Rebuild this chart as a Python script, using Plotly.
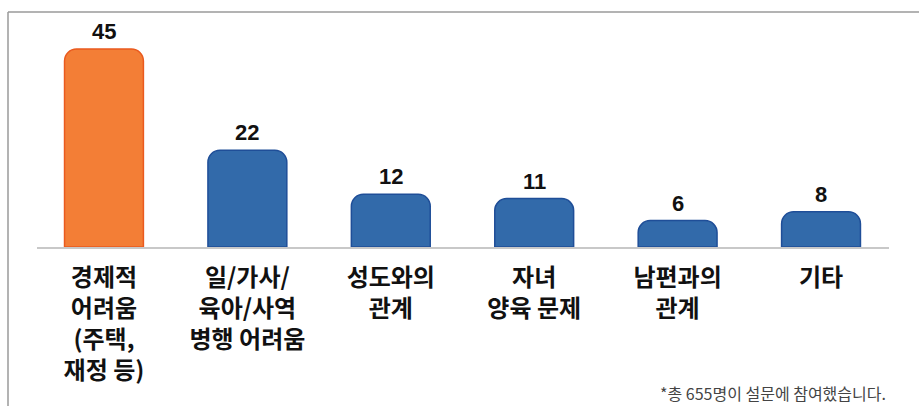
import plotly.graph_objects as go

categories = ["경제적<br>어려움<br>(주택,<br>재정 등)", "일/가사/<br>육아/사역<br>병행 어려움",
              "성도와의<br>관계", "자녀<br>양육 문제", "남편과의<br>관계", "기타"]
values = [45, 22, 12, 11, 6, 8]
fill_colors = ["#F37E36", "#326AAA", "#326AAA", "#326AAA", "#326AAA", "#326AAA"]
line_colors = ["#EA5A1E", "#1F4E98", "#1F4E98", "#1F4E98", "#1F4E98", "#1F4E98"]
footnote = "*총 655명이 설문에 참여했습니다."

W, H = 919, 406
L, R, T, B = 37, 30, 12, 159
x_idx = list(range(len(categories)))

fig = go.Figure()
fig.add_trace(go.Bar(
    x=x_idx, y=values,
    marker=dict(color=fill_colors, line=dict(color=line_colors, width=1.5), cornerradius=12),
    width=0.55, hoverinfo="skip",
))

for xi, v in zip(x_idx, values):
    fig.add_annotation(x=xi, y=v, text=str(v), showarrow=False, yanchor="bottom", yshift=3,
                       font=dict(family="Liberation Sans", size=22, color="#111111", weight="bold"))

plot_w = W - L - R
plot_h = H - T - B
# frame lines (top and left)
fig.add_shape(type="line", xref="paper", yref="paper",
              x0=(8 - L) / plot_w, x1=(W - L) / plot_w, y0=1, y1=1,
              line=dict(color="#9a9a9a", width=1.5))
fig.add_shape(type="line", xref="paper", yref="paper",
              x0=(8 - L) / plot_w, x1=(8 - L) / plot_w, y0=1, y1=-(H - T - plot_h) / plot_h,
              line=dict(color="#9a9a9a", width=1.5))

fig.add_annotation(xref="paper", yref="paper", x=(888 - L) / plot_w, y=-(393 - T - plot_h) / plot_h,
                   xanchor="right", yanchor="middle", showarrow=False, text=footnote,
                   font=dict(family="Noto Sans CJK KR", size=16, color="#444444"))

fig.update_layout(
    width=W, height=H, margin=dict(l=L, r=R, t=T, b=B),
    paper_bgcolor="white", plot_bgcolor="white", showlegend=False,
    xaxis=dict(range=[-0.467, 5.474], tickmode="array", tickvals=x_idx, ticktext=categories,
               showgrid=False, zeroline=False, showline=True, linecolor="#c8c8c8", linewidth=1.5,
               ticks="", tickangle=0, ticklabelstandoff=8,
               tickfont=dict(family="Noto Sans CJK KR", size=24, color="#111111", weight="bold")),
    yaxis=dict(range=[0, (H - T - B) / 4.4], visible=False, fixedrange=True),
)

fig.write_html("out.html")
